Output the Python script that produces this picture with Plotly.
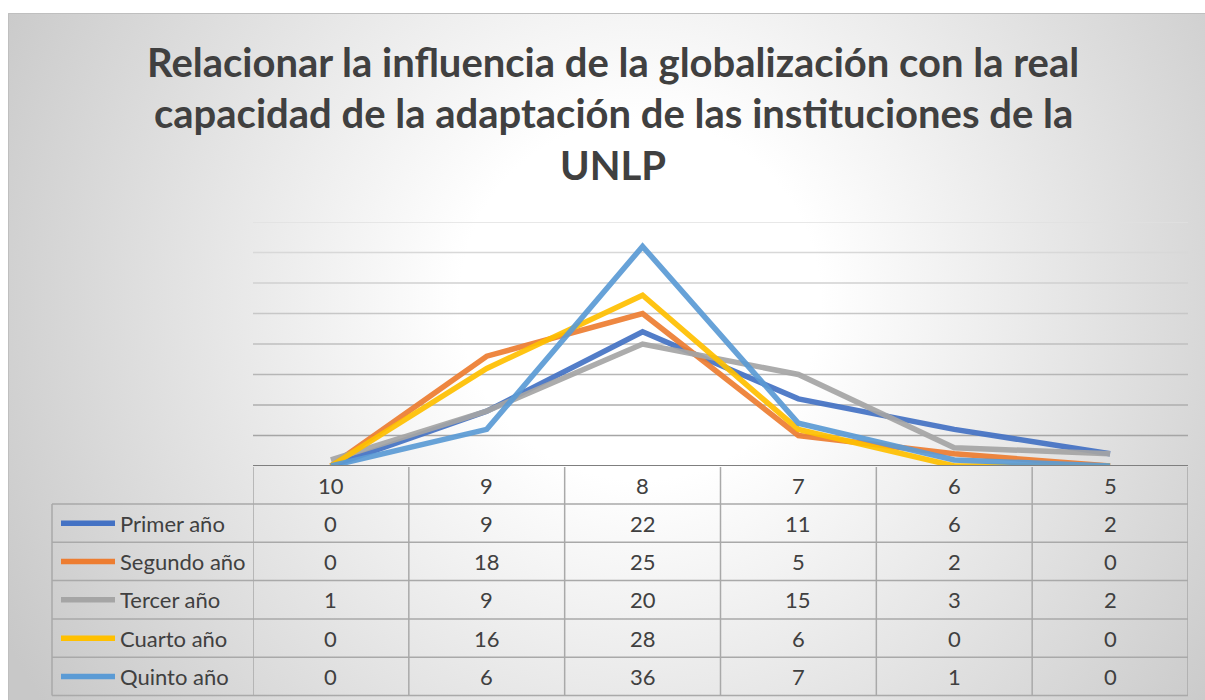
import base64
import plotly.graph_objects as go

# ---------------- data ----------------
categories = ["10", "9", "8", "7", "6", "5"]
series_names = ["Primer año", "Segundo año", "Tercer año", "Cuarto año", "Quinto año"]
primer = [0, 9, 22, 11, 6, 2]
segundo = [0, 18, 25, 5, 2, 0]
tercer = [1, 9, 20, 15, 3, 2]
cuarto = [0, 16, 28, 6, 0, 0]
quinto = [0, 6, 36, 7, 1, 0]
series_values = [primer, segundo, tercer, cuarto, quinto]
series_colors = ["#4472C4", "#ED7D31", "#A5A5A5", "#FFC000", "#5B9BD5"]
title_lines = [
    "Relacionar la influencia de la globalización con la real",
    "capacidad de la adaptación de las instituciones de la",
    "UNLP",
]
y_max = 40
y_step = 5

# ---------------- layout constants (page pixels) ----------------
W, H = 1205, 700
PL, PR = 253, 1188           # plot area left/right
PT, PB = 222, 466            # plot area top/bottom (baseline)
LEG_L = 52                   # left edge of legend column of table
ROW_EDGES = [466, 504, 542.3, 580.6, 619, 657.3, 695.6]
TXT = "#404040"
FONT = "Lato"


def px(x):
    return x / W


def py(y):
    return 1 - y / H


fig = go.Figure()

for name, vals, col in zip(series_names, series_values, series_colors):
    fig.add_trace(go.Scatter(
        x=categories, y=vals, mode="lines", name=name,
        line=dict(color=col, width=5.5), opacity=0.92,
        showlegend=False, hoverinfo="x+y+name",
    ))

shapes = []

# chart border
shapes.append(dict(type="rect", xref="paper", yref="paper",
                   x0=px(8.5), x1=px(1212), y0=py(13.5), y1=py(710),
                   line=dict(color="#bfbfbf", width=1), layer="below"))

# gridlines (fading gray toward top)
n_grid = y_max // y_step
for k in range(1, n_grid + 1):
    v = k * y_step
    t = (k - 1) / (n_grid - 1)
    g = int(round(165 + t * (225 - 165)))
    shapes.append(dict(type="line", xref="x", yref="y",
                       x0=-0.5, x1=len(categories) - 0.5, y0=v, y1=v,
                       line=dict(color=f"rgb({g},{g},{g})", width=1.5), layer="below"))

# axis baseline
shapes.append(dict(type="line", xref="x", yref="y",
                   x0=-0.5, x1=len(categories) - 0.5, y0=0, y1=0,
                   line=dict(color="#7f7f7f", width=2), layer="above"))

TBL = "#a9a9a9"
# horizontal table lines
for ye in ROW_EDGES[1:]:
    shapes.append(dict(type="line", xref="paper", yref="paper",
                       x0=px(LEG_L), x1=px(PR), y0=py(ye), y1=py(ye),
                       line=dict(color=TBL, width=1.5)))
# vertical table lines
shapes.append(dict(type="line", xref="paper", yref="paper",
                   x0=px(LEG_L), x1=px(LEG_L), y0=py(ROW_EDGES[1]), y1=py(ROW_EDGES[-1]),
                   line=dict(color=TBL, width=1.5)))
for i in range(len(categories) + 1):
    shapes.append(dict(type="line", xref="x", yref="paper",
                       x0=i - 0.5, x1=i - 0.5, y0=py(ROW_EDGES[0] + 1), y1=py(ROW_EDGES[-1]),
                       line=dict(color=TBL, width=1.5)))

annotations = []
FS = 22
# header categories
hc = (ROW_EDGES[0] + ROW_EDGES[1]) / 2
for i, c in enumerate(categories):
    annotations.append(dict(xref="x", yref="paper", x=i, y=py(hc), text=c,
                            showarrow=False, xanchor="center", yanchor="middle",
                            font=dict(family=FONT, size=FS, color=TXT)))
# rows
for r, (name, vals, col) in enumerate(zip(series_names, series_values, series_colors)):
    rc = (ROW_EDGES[r + 1] + ROW_EDGES[r + 2]) / 2
    shapes.append(dict(type="line", xref="paper", yref="paper",
                       x0=px(61), x1=px(115), y0=py(rc), y1=py(rc),
                       line=dict(color=col, width=5.5)))
    annotations.append(dict(xref="paper", yref="paper", x=px(118), y=py(rc), text=name,
                            showarrow=False, xanchor="left", yanchor="middle",
                            font=dict(family=FONT, size=FS, color=TXT)))
    for i, v in enumerate(vals):
        annotations.append(dict(xref="x", yref="paper", x=i, y=py(rc), text=str(v),
                                showarrow=False, xanchor="center", yanchor="middle",
                                font=dict(family=FONT, size=FS, color=TXT)))

# title
for line, yc in zip(title_lines, [62, 113, 165]):
    annotations.append(dict(xref="paper", yref="paper", x=px(613), y=py(yc), text=f"<b>{line}</b>",
                            showarrow=False, xanchor="center", yanchor="middle",
                            font=dict(family=FONT, size=40, color=TXT)))

# background gradient (box starts at page (8, 13))
bx0, by0 = 8, 13
bw, bh = 1212 - bx0, 710 - by0
svg = (f'<svg xmlns="http://www.w3.org/2000/svg" width="{bw}" height="{bh}" '
       f'viewBox="0 0 {bw} {bh}" preserveAspectRatio="none"><defs>'
       f'<radialGradient id="g" gradientUnits="userSpaceOnUse" cx="{640-bx0}" cy="{300-by0}" r="720">'
       '<stop offset="0" stop-color="#ffffff"/><stop offset="0.25" stop-color="#ffffff"/>'
       '<stop offset="1" stop-color="#c8c8c8"/></radialGradient></defs>'
       f'<rect width="{bw}" height="{bh}" fill="url(#g)"/></svg>')
src = "data:image/svg+xml;base64," + base64.b64encode(svg.encode()).decode()

fig.update_layout(
    width=W, height=H,
    margin=dict(l=0, r=0, t=0, b=0),
    paper_bgcolor="white", plot_bgcolor="rgba(0,0,0,0)",
    xaxis=dict(domain=[px(PL), px(PR)], range=[-0.5, len(categories) - 0.5],
               type="category", showticklabels=False, showgrid=False,
               zeroline=False, showline=False, fixedrange=True),
    yaxis=dict(domain=[py(PB), py(PT)], range=[0, y_max], showticklabels=False,
               showgrid=False, zeroline=False, showline=False, fixedrange=True),
    shapes=shapes, annotations=annotations,
    images=[dict(source=src, xref="paper", yref="paper", x=px(bx0), y=py(by0),
                 sizex=bw / W, sizey=bh / H, xanchor="left", yanchor="top",
                 sizing="stretch", layer="below")],
    showlegend=False,
)

fig.write_html(
    "out.html",
    config={"displayModeBar": False},
    post_script="document.body.style.margin='0';document.body.style.overflow='hidden';",
)
